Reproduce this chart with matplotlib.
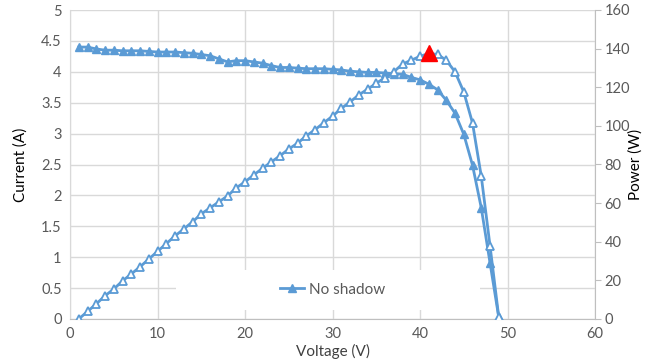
import numpy as np
import matplotlib
matplotlib.use("Agg")
import matplotlib.pyplot as plt
from matplotlib.ticker import FuncFormatter
from matplotlib.patches import Rectangle

plt.rcParams['font.family'] = ['Lato', 'DejaVu Sans']

# datos
voltage = list(range(1, 50))
current = [4.40, 4.40, 4.37, 4.35, 4.35, 4.34, 4.34, 4.34, 4.33, 4.32,
           4.32, 4.32, 4.31, 4.30, 4.28, 4.26, 4.21, 4.16, 4.18, 4.18,
           4.16, 4.14, 4.10, 4.07, 4.07, 4.06, 4.05, 4.05, 4.05, 4.04,
           4.03, 4.01, 4.00, 3.99, 3.99, 3.98, 3.97, 3.96, 3.91, 3.87,
           3.80, 3.71, 3.54, 3.33, 2.99, 2.49, 1.80, 0.91, 0.03]
power = [0, 3.9, 7.8, 12, 15.5, 19.7, 23.3, 27, 31, 35,
         39, 43, 46.6, 50.3, 54.4, 57.5, 60.6, 63.7, 67.9, 71,
         74.6, 78, 81.3, 84.5, 88, 91, 94.8, 98, 101.6, 105,
         109, 112.4, 116, 119, 122, 125, 128, 132, 134, 136,
         137.5, 137, 134, 128, 117.6, 101.5, 74, 38, 1]
mpp_v = 41
mpp_p = 137.5

blue = '#5B9BD5'
grey_txt = '#595959'
grid_c = '#D9D9D9'

fig = plt.figure(figsize=(6.47, 3.64), dpi=100)
ax = fig.add_axes([70/647, 45/364, 525/647, 309/364])
ax2 = ax.twinx()

ax.set_axisbelow(True)
ax.grid(True, color=grid_c, lw=1)
ax.set_xlim(0, 60)
ax.set_ylim(0, 5)
ax.set_xticks(np.arange(0, 61, 10))
ax.set_yticks(np.arange(0, 5.01, 0.5))
ax.yaxis.set_major_formatter(FuncFormatter(lambda v, p: '%g' % v))
ax.tick_params(length=0, colors=grey_txt, labelsize=10.5, pad=6)
ax2.set_ylim(0, 160)
ax2.set_yticks(np.arange(0, 161, 20))
ax2.tick_params(length=4, colors='#BFBFBF', labelcolor=grey_txt, labelsize=10.5, pad=3)

for a in (ax, ax2):
    for s in a.spines.values():
        s.set_visible(False)
ax.spines['bottom'].set_visible(True)
ax.spines['bottom'].set_color('#BFBFBF')
ax.spines['left'].set_visible(True)
ax.spines['left'].set_color(grid_c)
ax2.spines['right'].set_visible(True)
ax2.spines['right'].set_color('#BFBFBF')

# fondo blanco de la leyenda
ax.add_patch(Rectangle((0.202, 0.029), 0.579, 0.13, transform=ax.transAxes,
                       facecolor='white', edgecolor='none', zorder=1))

l1, = ax.plot(voltage, current, color=blue, lw=2, marker='^', ms=5.5,
              mfc=blue, mec=blue, zorder=3, label='No shadow')
ax2.plot(voltage, power, color=blue, lw=2, marker='^', ms=5.5,
         mfc='white', mec=blue, mew=1.3, zorder=3)
ax2.plot([mpp_v], [mpp_p], marker='^', ms=12, color='red', ls='none', zorder=4)

ax.set_xlabel('Voltage (V)', fontsize=11, color='#404040')
ax.set_ylabel('Current (A)', fontsize=11, color='black')
ax2.set_ylabel('Power (W)', fontsize=11, color='black')
ax.xaxis.set_label_coords(0.5, -0.081)
ax.yaxis.set_label_coords(-0.08, 0.5)
ax2.yaxis.set_label_coords(1.064, 0.5)

leg = ax.legend(handles=[l1], loc='center', bbox_to_anchor=(0.50, 0.095),
                frameon=False, fontsize=11, handlelength=1.6, handletextpad=0.3)
for t in leg.get_texts():
    t.set_color(grey_txt)

fig.savefig('out.png', dpi=100)
